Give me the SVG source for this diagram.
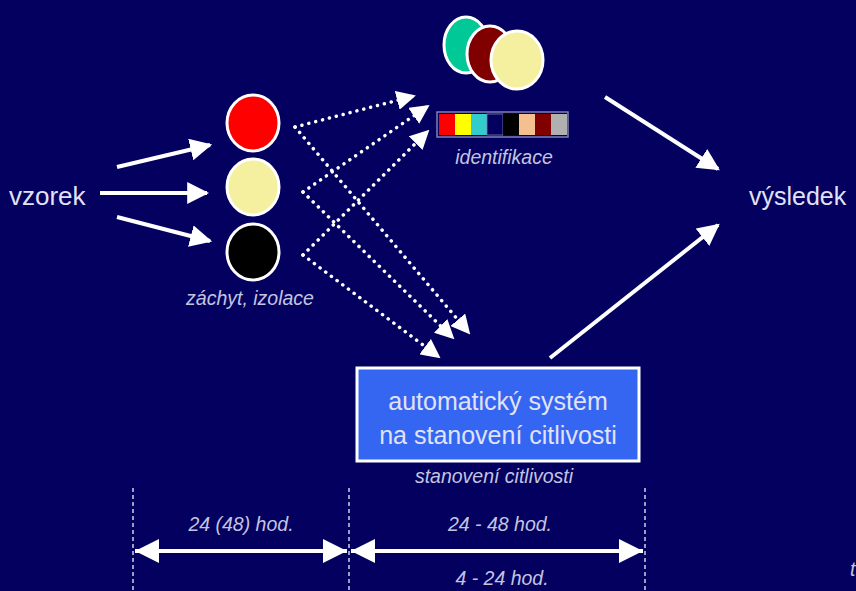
<svg xmlns="http://www.w3.org/2000/svg" width="856" height="591" viewBox="0 0 856 591">
<defs>
<style>
.lbl{font-family:"Liberation Sans",Arial,sans-serif;fill:#e2e2f6;}
.it{font-family:"Liberation Sans",Arial,sans-serif;font-style:italic;fill:#c4c4e0;font-size:19.5px;}
.solid{stroke:#fff;stroke-width:4;fill:none;}
.dot{stroke:#fff;stroke-width:3.5;fill:none;stroke-dasharray:0.1 7;stroke-linecap:round;}
.dash{stroke:#d0d0e8;stroke-width:1.5;stroke-dasharray:4 3;fill:none;}
.node{stroke:#fff;stroke-width:3;}
</style>
<marker id="ah" viewBox="0 0 10 10" refX="9" refY="5" markerWidth="5.5" markerHeight="5.5" markerUnits="strokeWidth" orient="auto"><path d="M0,0 L10,5 L0,10 Z" fill="#fff"/></marker>
<marker id="ahd" viewBox="0 0 10 10" refX="9" refY="5" markerWidth="5.5" markerHeight="5.5" markerUnits="strokeWidth" orient="auto"><path d="M0,0 L10,5 L0,10 Z" fill="#fff"/></marker>
<marker id="big" viewBox="0 0 10 10" refX="10" refY="5" markerWidth="6" markerHeight="6" markerUnits="strokeWidth" orient="auto-start-reverse"><path d="M0,0 L10,5 L0,10 Z" fill="#fff"/></marker>
</defs>
<rect width="856" height="591" fill="#03005f"/>

<g id="vzorek"><text class="lbl" x="9" y="205" font-size="26">vzorek</text></g>

<g id="isolates">
<ellipse class="node" cx="253" cy="123" rx="26" ry="28" fill="#ff0000"/>
<ellipse class="node" cx="253" cy="187" rx="26" ry="28" fill="#f5f0a0"/>
<ellipse class="node" cx="253" cy="252" rx="26" ry="28" fill="#000000"/>
<text class="it" x="250" y="305" text-anchor="middle">záchyt, izolace</text>
</g>

<g id="identifikace">
<ellipse class="node" cx="466" cy="45" rx="22" ry="28" fill="#00c896"/>
<ellipse class="node" cx="490" cy="54" rx="23" ry="28" fill="#800000"/>
<ellipse class="node" cx="517" cy="60" rx="26" ry="29" fill="#f5f0a0"/>
<g>
<rect x="437" y="112" width="131" height="25" fill="none" stroke="#8080b0" stroke-width="1.5"/>
<rect x="439" y="114" width="16" height="21" fill="#ff0000"/>
<rect x="455" y="114" width="16" height="21" fill="#ffff00"/>
<rect x="471" y="114" width="16" height="21" fill="#33cccc"/>
<rect x="487" y="114" width="16" height="21" fill="#03005f" stroke="#8080b0" stroke-width="0.8"/>
<rect x="503" y="114" width="16" height="21" fill="#000000"/>
<rect x="519" y="114" width="16" height="21" fill="#f5c090"/>
<rect x="535" y="114" width="16" height="21" fill="#800000"/>
<rect x="551" y="114" width="16" height="21" fill="#b0b0b0"/>
</g>
<text class="it" x="504" y="164" text-anchor="middle">identifikace</text>
</g>

<g id="system">
<rect x="357" y="368" width="282" height="93" fill="#3466f2" stroke="#fff" stroke-width="3"/>
<text class="lbl" x="498" y="410" font-size="25" text-anchor="middle">automatický systém</text>
<text class="lbl" x="498" y="444" font-size="25" text-anchor="middle">na stanovení citlivosti</text>
<text class="it" x="494" y="483" text-anchor="middle">stanovení citlivosti</text>
</g>

<g id="vysledek"><text class="lbl" x="749" y="205" font-size="25">výsledek</text></g>

<g id="connectors">
<line class="solid" x1="117" y1="167" x2="210" y2="145" marker-end="url(#ah)"/>
<line class="solid" x1="100" y1="193" x2="207" y2="193" marker-end="url(#ah)"/>
<line class="solid" x1="117" y1="217" x2="210" y2="241" marker-end="url(#ah)"/>

<line class="dot" x1="295" y1="127" x2="414" y2="96" marker-end="url(#ahd)"/>
<line class="dot" x1="303" y1="192" x2="428" y2="106" marker-end="url(#ahd)"/>
<line class="dot" x1="303" y1="255" x2="428" y2="131" marker-end="url(#ahd)"/>
<line class="dot" x1="295" y1="127" x2="469" y2="333" marker-end="url(#ahd)"/>
<line class="dot" x1="303" y1="192" x2="453" y2="338" marker-end="url(#ahd)"/>
<line class="dot" x1="303" y1="255" x2="439" y2="357" marker-end="url(#ahd)"/>

<line class="solid" x1="605" y1="97" x2="718" y2="169" marker-end="url(#ah)"/>
<line class="solid" x1="550" y1="358" x2="718" y2="225" marker-end="url(#ah)"/>

<line class="dash" x1="133" y1="488" x2="133" y2="591"/>
<line class="dash" x1="349" y1="488" x2="349" y2="591"/>
<line class="dash" x1="645" y1="488" x2="645" y2="591"/>
<line class="solid" x1="135" y1="551" x2="347" y2="551" marker-start="url(#big)" marker-end="url(#big)"/>
<line class="solid" x1="351" y1="551" x2="643" y2="551" marker-start="url(#big)" marker-end="url(#big)"/>
</g>

<g id="times">
<text class="it" x="241" y="531" text-anchor="middle">24 (48) hod.</text>
<text class="it" x="500" y="531" text-anchor="middle">24 - 48 hod.</text>
<text class="it" x="502" y="585" text-anchor="middle">4 - 24 hod.</text>
<text class="it" x="850" y="576" font-size="12">t</text>
</g>
</svg>
